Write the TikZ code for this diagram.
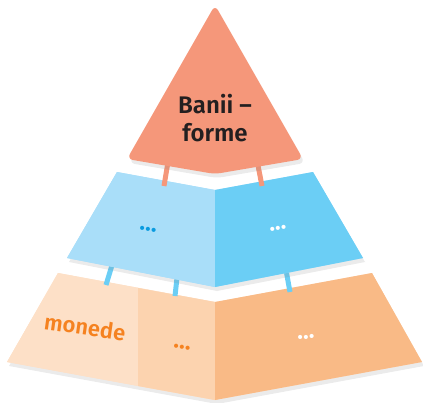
\documentclass[tikz,border=0pt]{standalone}
\usepackage{fontspec}
\setmainfont{Fira Sans}[BoldFont={Fira Sans SemiBold}]
\usetikzlibrary{shadows}
\definecolor{salmon}{HTML}{F5977A}
\definecolor{blueA}{HTML}{A9DEF9}
\definecolor{blueB}{HTML}{6BCEF5}
\definecolor{orA}{HTML}{FDE0C7}
\definecolor{orB}{HTML}{FCD3AF}
\definecolor{orC}{HTML}{F9BA86}
\definecolor{orText}{HTML}{F58220}
\definecolor{blueDot}{HTML}{0A9BE0}
\definecolor{darkText}{HTML}{231F20}
\tikzset{
  shad/.style={drop shadow={opacity=0.16, shadow xshift=2pt, shadow yshift=-4pt}},
  salstripe/.style={draw=salmon, line width=5pt},
  bluestripe/.style={draw=blueB, line width=5pt},
  lbl/.style={font=\bfseries\fontsize{24}{28}\selectfont, align=center},
  monlbl/.style={font=\bfseries\fontsize{22}{25}\selectfont, inner sep=1pt},
  dots/.style={font=\bfseries\fontsize{24}{24}\selectfont, inner sep=0pt}
}
\begin{document}
\begin{tikzpicture}[x=1pt,y=1pt]
\useasboundingbox (0,0) rectangle (423,-402);
% bottom layer
\coordinate (oTL) at (58,-273);
\coordinate (oTM) at (215,-302);
\coordinate (oTR) at (372,-273);
\coordinate (oBL) at (7,-362);
\coordinate (oBM) at (215,-400);
\coordinate (oBR) at (422,-362);
\coordinate (oDT) at (138,-288);
\coordinate (oDB) at (138,-386);
\path[shad, fill=orA] (oTL) -- (oTM) -- (oTR) -- (oBR) -- (oBM) -- (oBL) -- cycle;
\fill[orA] (oTL) -- (oTM) -- (oBM) -- (oBL) -- cycle;
\fill[orB] (oDT) -- (oTM) -- (oBM) -- (oDB) -- cycle;
\fill[orC] (oTM) -- (oTR) -- (oBR) -- (oBM) -- cycle;
% blue stripes
\coordinate (bs1a) at (113,-262);
\coordinate (bs1b) at (106,-285);
\coordinate (bs2a) at (177,-278);
\coordinate (bs2b) at (175,-296);
\coordinate (bs3a) at (286,-270);
\coordinate (bs3b) at (290,-292);
\draw[bluestripe] (bs1a) -- (bs1b);
\draw[bluestripe] (bs2a) -- (bs2b);
\draw[bluestripe] (bs3a) -- (bs3b);
% middle layer
\coordinate (bTL) at (117,-172);
\coordinate (bTM) at (215,-190);
\coordinate (bTR) at (313,-172);
\coordinate (bBL) at (67,-258);
\coordinate (bBM) at (215,-287);
\coordinate (bBR) at (363,-258);
\path[shad, fill=blueA] (bTL) -- (bTM) -- (bTR) -- (bBR) -- (bBM) -- (bBL) -- cycle;
\fill[blueA] (bTL) -- (bTM) -- (bBM) -- (bBL) -- cycle;
\fill[blueB] (bTM) -- (bTR) -- (bBR) -- (bBM) -- cycle;
% salmon stripes
\coordinate (ss1a) at (170,-150);
\coordinate (ss1b) at (164,-186);
\coordinate (ss2a) at (255,-150);
\coordinate (ss2b) at (262,-186);
\draw[salstripe] (ss1a) -- (ss1b);
\draw[salstripe] (ss2a) -- (ss2b);
% top triangle
\coordinate (tA) at (215,-5);
\coordinate (tL) at (127,-159);
\coordinate (tM) at (215,-174);
\coordinate (tR) at (303,-159);
\path[shad, fill=salmon, rounded corners=6pt] (tA) -- (tR) -- (tM) -- (tL) -- cycle;
% texts
\node[lbl, text=darkText] (top) at (215,-118) {Banii –\\forme};
\node[dots, text=blueDot, rotate=-10] (d1) at (148,-229) {...};
\node[dots, text=white, rotate=10] (d2) at (278,-228) {...};
\node[monlbl, text=orText, rotate=-8] (mon) at (85,-327) {monede};
\node[dots, text=orText, rotate=-8] (d3) at (182,-347) {...};
\node[dots, text=white, rotate=8] (d4) at (306,-337) {...};
\end{tikzpicture}
\end{document}
